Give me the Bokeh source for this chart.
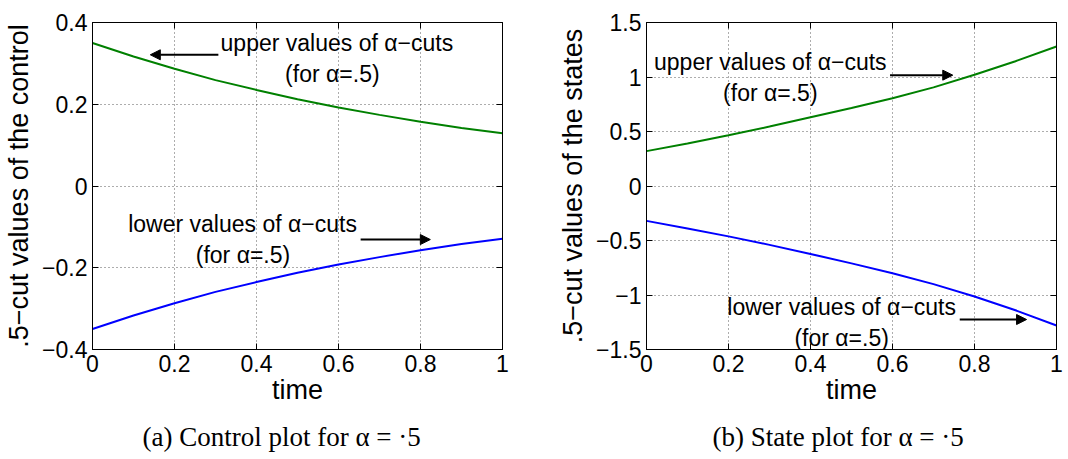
from bokeh.plotting import figure
from bokeh.layouts import row
from bokeh.models import (Range1d, FixedTicker, CustomJSTickFormatter, LinearAxis,
                          Label, Arrow, NormalHead, Title)
from bokeh.embed import file_html
from bokeh.resources import INLINE

# ---------------- data ----------------
time = [0.0, 0.1, 0.2, 0.3, 0.4, 0.5, 0.6, 0.7, 0.8, 0.9, 1.0]
control_upper = [0.350, 0.317, 0.287, 0.259, 0.235, 0.212, 0.192, 0.174, 0.157, 0.142, 0.129]
control_lower = [-0.350, -0.317, -0.287, -0.259, -0.235, -0.212, -0.192, -0.174, -0.157, -0.142, -0.129]
state_upper = [0.32, 0.39, 0.465, 0.545, 0.63, 0.715, 0.805, 0.905, 1.02, 1.145, 1.28]
state_lower = [-0.32, -0.39, -0.462, -0.54, -0.623, -0.71, -0.80, -0.90, -1.014, -1.14, -1.28]

x_ticks = [0, 0.2, 0.4, 0.6, 0.8, 1]
control_ticks = [-0.4, -0.2, 0, 0.2, 0.4]
state_ticks = [-1.5, -1, -0.5, 0, 0.5, 1, 1.5]

SANS = "Liberation Sans"
SERIF = "Liberation Serif"
GREEN = "#008000"
BLUE = "#0000ff"

fmt_code = "return String(tick).replace('-', '\\u2212');"


def make_fig(ylabel, yr, yticks, caption, cap_offset, mb_left, mb_right):
    p = figure(frame_width=410, frame_height=327,
               x_range=Range1d(0, 1), y_range=Range1d(*yr),
               output_backend="svg", toolbar_location=None,
               min_border_left=mb_left, min_border_right=mb_right,
               min_border_top=22, min_border_bottom=10,
               background_fill_color="white", border_fill_color="white")
    p.outline_line_color = "black"
    p.outline_line_width = 1
    p.outline_line_alpha = 1

    p.xaxis.ticker = FixedTicker(ticks=x_ticks)
    p.yaxis.ticker = FixedTicker(ticks=yticks)
    for ax in (p.xaxis[0], p.yaxis[0]):
        ax.formatter = CustomJSTickFormatter(code=fmt_code)
        ax.major_label_text_font = SANS
        ax.major_label_text_font_size = "23px"
        ax.major_label_text_color = "black"
        ax.axis_label_text_font = SANS
        ax.axis_label_text_font_size = "27px"
        ax.axis_label_text_font_style = "normal"
        ax.axis_label_text_color = "black"
        ax.major_tick_in = 6
        ax.major_tick_out = 0
        ax.minor_tick_line_color = None
        ax.axis_line_color = "black"
        ax.major_tick_line_color = "black"
    p.xaxis.axis_label = "time"
    p.xaxis.major_label_standoff = 5
    p.xaxis.axis_label_standoff = 0
    p.yaxis.axis_label = ylabel
    p.yaxis.major_label_standoff = 5
    p.yaxis.axis_label_standoff = 5

    # box ticks on top and right (MATLAB style), without labels
    for loc, tk in (("above", x_ticks), ("right", yticks)):
        ax = LinearAxis(ticker=FixedTicker(ticks=tk),
                        formatter=CustomJSTickFormatter(code="return '';"),
                        major_label_text_color=None,
                        major_label_standoff=0, major_tick_in=6, major_tick_out=0,
                        minor_tick_line_color=None, axis_line_color="black")
        p.add_layout(ax, loc)

    p.grid.grid_line_color = "#333333"
    p.grid.grid_line_dash = "1 3"
    p.grid.grid_line_alpha = 0.8
    p.grid.grid_line_width = 1

    cap = Title(text=caption, align="left", offset=cap_offset, text_font=SERIF,
                text_font_size="27px", text_font_style="normal", text_color="black",
                standoff=24)
    p.add_layout(cap, "below")
    return p


p1 = make_fig(".5\u2212cut values of the control", (-0.4, 0.4), control_ticks,
              "(a) Control plot for α = ·5", 50, 92, 52)
p1.line(time, control_upper, line_color=GREEN, line_width=2)
p1.line(time, control_lower, line_color=BLUE, line_width=2)

p2 = make_fig(".5\u2212cut values of the states", (-1.5, 1.5), state_ticks,
              "(b) State plot for α = ·5", 66, 92, 11)
p2.line(time, state_upper, line_color=GREEN, line_width=2)
p2.line(time, state_lower, line_color=BLUE, line_width=2)


def add_text(p, x, y, txt):
    p.add_layout(Label(x=x, y=y, text=txt, text_align="center", text_baseline="middle",
                       text_font=SANS, text_font_size="23px", text_color="black"))


def add_arrow(p, xs, xe, y):
    p.add_layout(Arrow(x_start=xs, y_start=y, x_end=xe, y_end=y, line_width=2,
                       line_color="black",
                       end=NormalHead(size=10, fill_color="black", line_color="black")))


up = "upper values of α\u2212cuts"
lo = "lower values of α\u2212cuts"
fa = "(for α=.5)"

add_text(p1, 0.596, 0.349, up)
add_text(p1, 0.585, 0.273, fa)
add_arrow(p1, 0.307, 0.141, 0.321)
add_text(p1, 0.366, -0.094, lo)
add_text(p1, 0.367, -0.169, fa)
add_arrow(p1, 0.654, 0.824, -0.131)

add_text(p2, 0.302, 1.138, up)
add_text(p2, 0.302, 0.853, fa)
add_arrow(p2, 0.594, 0.747, 1.017)
add_text(p2, 0.476, -1.110, lo)
add_text(p2, 0.476, -1.390, fa)
add_arrow(p2, 0.764, 0.927, -1.225)

layout = row(p1, p2)
open("out.html", "w").write(file_html(layout, INLINE))
